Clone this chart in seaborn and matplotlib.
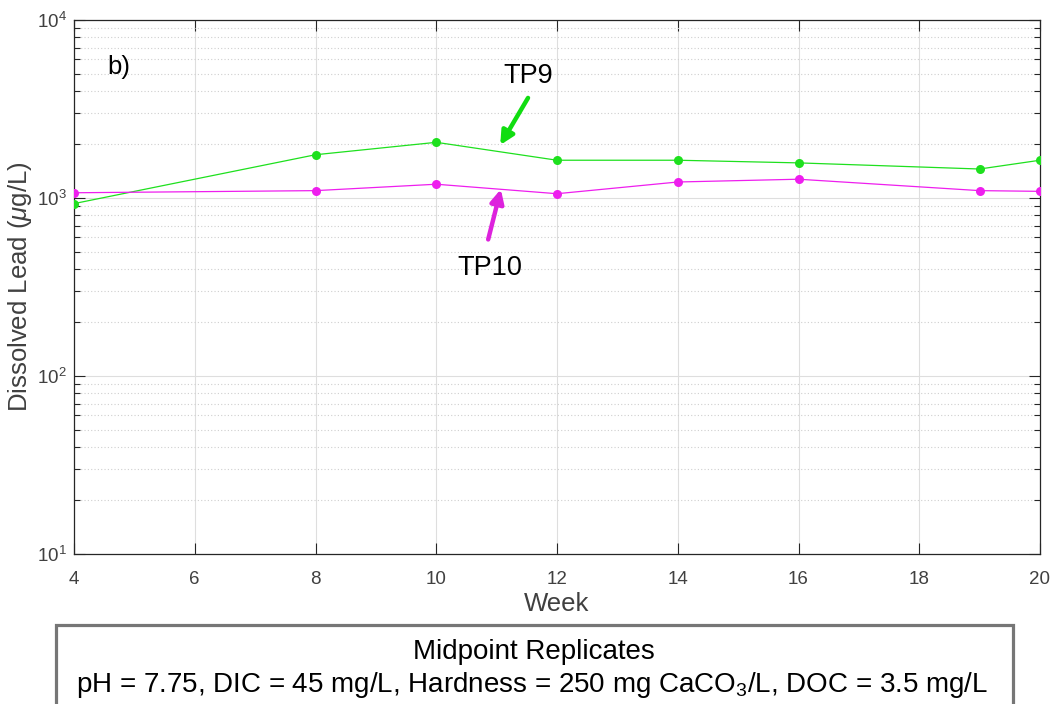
import matplotlib
matplotlib.use("Agg")
import matplotlib.pyplot as plt
import seaborn as sns
import pandas as pd
from matplotlib.patches import Rectangle
from matplotlib.ticker import LogLocator, NullFormatter

weeks = [4, 8, 10, 12, 14, 16, 19, 20]
tp9 = [930, 1750, 2055, 1630, 1630, 1575, 1455, 1630]
tp10 = [1070, 1100, 1195, 1057, 1230, 1275, 1100, 1090]
series_names = ["TP9", "TP10"]
colors = {"TP9": "#1ee01e", "TP10": "#ee1eee"}

df = pd.DataFrame({
    "Week": weeks * 2,
    "Lead": tp9 + tp10,
    "Series": ["TP9"] * len(weeks) + ["TP10"] * len(weeks),
})

sns.set_style("white")
plt.rcParams['font.family'] = ['Liberation Sans', 'DejaVu Sans']
plt.rcParams['mathtext.fontset'] = 'custom'
plt.rcParams['mathtext.rm'] = 'Liberation Sans'
plt.rcParams['mathtext.it'] = 'Liberation Sans:italic'
plt.rcParams['mathtext.bf'] = 'Liberation Sans:bold'

fig = plt.figure(figsize=(10.53, 7.04), dpi=100)
ax = fig.add_axes([74/1053, 1 - 554/704, (1040-74)/1053, (554-20)/704])

sns.lineplot(data=df, x="Week", y="Lead", hue="Series", palette=colors,
             marker="o", markersize=6.5, markeredgewidth=0, linewidth=0.9,
             legend=False, ax=ax, zorder=3)

ax.set_yscale("log")
ax.set_xlim(4, 20)
ax.set_ylim(10, 1e4)
ax.set_xticks(range(4, 21, 2))
ax.yaxis.set_major_locator(LogLocator(base=10, numticks=10))
ax.yaxis.set_minor_locator(LogLocator(base=10, subs=range(2, 10), numticks=30))
ax.yaxis.set_minor_formatter(NullFormatter())

ax.grid(True, which="major", axis="both", color="#dedede", linewidth=0.8, linestyle="-")
ax.grid(True, which="minor", axis="y", color="#cfcfcf", linewidth=0.8, linestyle=(0, (1, 2)))
ax.set_axisbelow(True)

for s in ax.spines.values():
    s.set_color("#262626")
    s.set_linewidth(0.9)
    s.set_visible(True)

ax.tick_params(which="both", direction="in", top=True, right=True, bottom=True, left=True,
               colors="#262626", labelcolor="#404040", labelsize=13.5)
ax.tick_params(which="major", length=8, width=0.8)
ax.tick_params(which="minor", length=4, width=0.8)
ax.tick_params(axis="x", pad=12)
ax.tick_params(axis="y", pad=5)

ax.set_xlabel("Week", fontsize=18.5, color="#404040", labelpad=3)
ax.set_ylabel(r"Dissolved Lead ($\mu$g/L)", fontsize=18.5, color="#404040", labelpad=2)

ax.text(0.035, 0.912, "b)", transform=ax.transAxes, fontsize=18.5, color="black",
        ha="left", va="center")

# labels and arrows
ax.text(11.52, 4850, "TP9", fontsize=19.5, ha="center", va="center", color="black")
ax.text(10.89, 405, "TP10", fontsize=19.5, ha="center", va="center", color="black")
ax.annotate("", xy=(11.06, 1985), xytext=(11.52, 3650),
            arrowprops=dict(arrowstyle="-|>", color="#11dd11", lw=3.2,
                            mutation_scale=20, shrinkA=0, shrinkB=0))
ax.annotate("", xy=(11.07, 1120), xytext=(10.86, 585),
            arrowprops=dict(arrowstyle="-|>", color="#dd22dd", lw=3.2,
                            mutation_scale=20, shrinkA=0, shrinkB=0))

rect = Rectangle((56/1053, -0.02), (1013-56)/1053, (704-625)/704 + 0.02,
                 transform=fig.transFigure, fill=False, edgecolor="#767676",
                 linewidth=2.3, clip_on=False)
fig.patches.append(rect)
fig.text(534/1053, 1 - 652/704, "Midpoint Replicates", fontsize=20,
         ha="center", va="center", color="black")
fig.text(532/1053, 1 - 685/704,
         r"pH = 7.75, DIC = 45 mg/L, Hardness = 250 mg CaCO$_3$/L, DOC = 3.5 mg/L",
         fontsize=20, ha="center", va="center", color="black")

fig.savefig("out.png", dpi=100)
